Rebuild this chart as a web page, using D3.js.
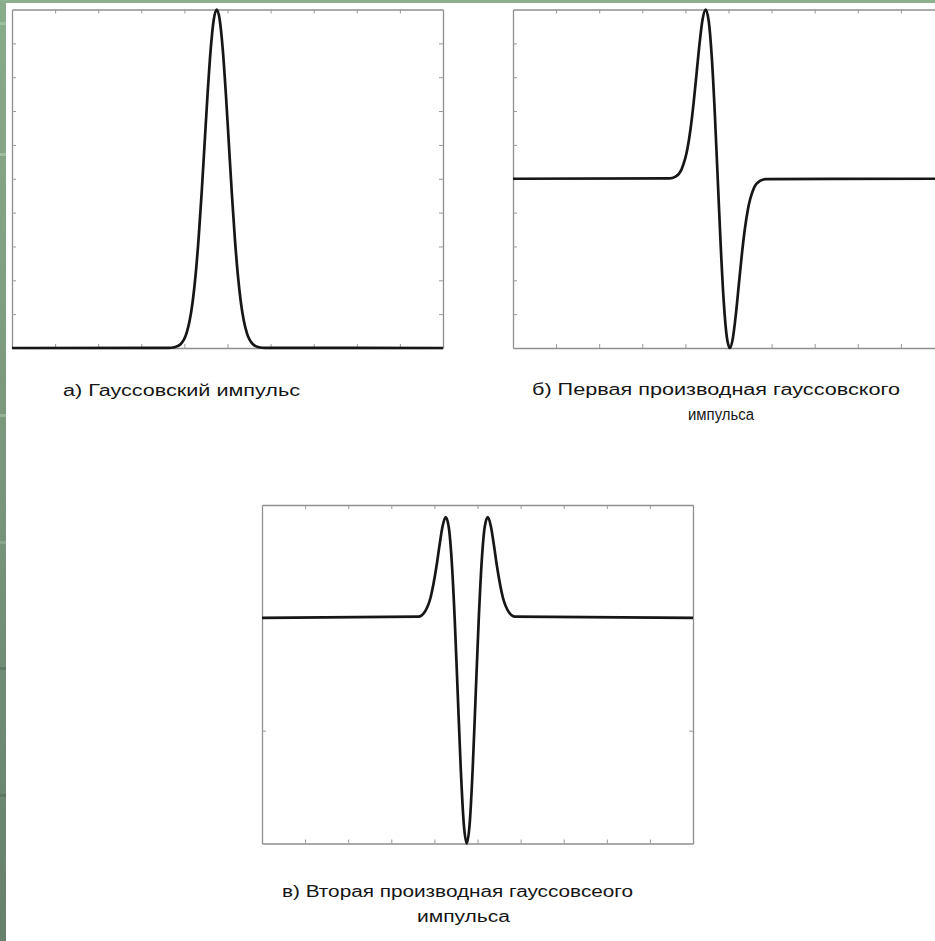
<!DOCTYPE html>
<html>
<head>
<meta charset="utf-8">
<script src="https://cdn.jsdelivr.net/npm/d3@7"></script>
<style>
  html, body { margin: 0; padding: 0; background: #fff; }
  svg { display: block; }
</style>
</head>
<body>
<svg id="chart" width="935" height="941"></svg>
<script>
// Sample times (shared by all three signals)
const t = [-5, -1.37, -1.23, -1.09, -0.95, -0.88, -0.81, -0.74, -0.67, -0.60, -0.53,
  -0.46, -0.39, -0.32, -0.25, -0.18, -0.11, -0.04, 0.03, 0.10, 0.17, 0.24, 0.31,
  0.38, 0.45, 0.59, 0.73, 0.87, 5];

// Gaussian pulse
const pulse = [0, 0.0003, 0.0022, 0.0111, 0.0439, 0.0796, 0.1353, 0.2163, 0.3247,
  0.4578, 0.6065, 0.7548, 0.8825, 0.9692, 1, 0.9692, 0.8825, 0.7548, 0.6065,
  0.4578, 0.3247, 0.2163, 0.1353, 0.0796, 0.0439, 0.0111, 0.0022, 0.0003, 0];

// First derivative (normalised to unit peak)
const firstDeriv = [0, 0.0022, 0.0125, 0.0549, 0.1810, 0.2953, 0.4463, 0.6241, 0.8030,
  0.9435, 1, 0.9334, 0.7275, 0.3995, 0, -0.3995, -0.7275, -0.9334, -1, -0.9435,
  -0.8030, -0.6241, -0.4463, -0.2953, -0.1810, -0.0549, -0.0125, -0.0022, 0];

// Second derivative (normalised to unit trough)
const secondDeriv = [0, 0.0050, 0.0246, 0.0889, 0.2305, 0.3233, 0.4060, 0.4461, 0.4059,
  0.2575, 0, -0.3302, -0.6619, -0.9086, -1, -0.9086, -0.6619, -0.3302, 0, 0.2575,
  0.4059, 0.4461, 0.4060, 0.3233, 0.2305, 0.0889, 0.0246, 0.0050, 0];

// Axis ticks
const xTicks = [-4, -3, -2, -1, 0, 1, 2, 3, 4];
const yTicksA = [0.1, 0.2, 0.3, 0.4, 0.5, 0.6, 0.7, 0.8, 0.9];
const yTicksB = [-0.8, -0.6, -0.4, -0.2, 0, 0.2, 0.4, 0.6, 0.8];
const yTicksC = [-0.5, 0];

// Captions
const captionA = ["а) Гауссовский импульс"];
const captionB = ["б) Первая производная гауссовского", "импульса"];
const captionC = ["в) Вторая производная гауссовсеого", "импульса"];

const svg = d3.select("#chart");

// Slide template decoration: green strip on the left and along the top
const defs = svg.append("defs");
const grad = defs.append("linearGradient").attr("id", "strip")
  .attr("x1", 0).attr("y1", 0).attr("x2", 0).attr("y2", 1);
grad.append("stop").attr("offset", "0%").attr("stop-color", "#8aac8a");
grad.append("stop").attr("offset", "50%").attr("stop-color", "#7a967c");
grad.append("stop").attr("offset", "100%").attr("stop-color", "#66806a");

svg.append("rect").attr("x", 0).attr("y", 0).attr("width", 935).attr("height", 941)
  .attr("fill", "#ffffff");
svg.append("rect").attr("x", 0).attr("y", 0).attr("width", 6).attr("height", 941)
  .attr("fill", "url(#strip)");
svg.append("rect").attr("x", 0).attr("y", 0).attr("width", 935).attr("height", 3)
  .attr("fill", "#8db08e");
const bands = [
  { y: 22, c: "#9dbf9d" }, { y: 153, c: "#9dbf9d" }, { y: 414, c: "#94b494" },
  { y: 541, c: "#8aa88c" }, { y: 667, c: "#5f7a64" }, { y: 794, c: "#5e765f" }
];
svg.selectAll("rect.band").data(bands).join("rect").attr("class", "band")
  .attr("x", 0).attr("y", d => d.y).attr("width", 6).attr("height", 3)
  .attr("fill", d => d.c);

const panels = [
  { left: 12, top: 9.5, yDomain: [0, 1], values: pulse, yTicks: yTicksA,
    caption: captionA, capX: [63], capY: 396, capW: [237] },
  { left: 513, top: 9.5, yDomain: [-1, 1], values: firstDeriv, yTicks: yTicksB,
    caption: captionB, capX: [532, 688], capY: 395, capW: [368, 66] },
  { left: 262, top: 505, yDomain: [-1, 0.5], values: secondDeriv, yTicks: yTicksC,
    caption: captionC, capX: [282, 417], capY: 897, capW: [351, 93] }
];
const W = 431, H = 338.5;

panels.forEach(p => {
  const x = d3.scaleLinear().domain([-5, 5]).range([p.left, p.left + W]);
  const y = d3.scaleLinear().domain(p.yDomain).range([p.top + H, p.top]);
  const g = svg.append("g");

  const styleAxis = sel => {
    sel.selectAll("path.domain").attr("stroke", "#8f8f8f").attr("stroke-width", 1.3);
    sel.selectAll(".tick line").attr("stroke", "#999").attr("stroke-width", 1);
    sel.selectAll(".tick text").remove();
  };

  g.append("g").attr("transform", `translate(0,${p.top + H})`)
    .call(d3.axisBottom(x).tickValues(xTicks).tickSizeInner(-4).tickSizeOuter(0).tickFormat(""))
    .call(styleAxis);
  g.append("g").attr("transform", `translate(0,${p.top})`)
    .call(d3.axisTop(x).tickValues(xTicks).tickSizeInner(-4).tickSizeOuter(0).tickFormat(""))
    .call(styleAxis);
  g.append("g").attr("transform", `translate(${p.left},0)`)
    .call(d3.axisLeft(y).tickValues(p.yTicks).tickSizeInner(-4).tickSizeOuter(0).tickFormat(""))
    .call(styleAxis);
  g.append("g").attr("transform", `translate(${p.left + W},0)`)
    .call(d3.axisRight(y).tickValues(p.yTicks).tickSizeInner(-4).tickSizeOuter(0).tickFormat(""))
    .call(styleAxis);

  const pts = t.map((tv, i) => [tv, p.values[i]]);
  g.append("path").datum(pts)
    .attr("fill", "none").attr("stroke", "#161616").attr("stroke-width", 2.7)
    .attr("stroke-linejoin", "round")
    .attr("d", d3.line().x(d => x(d[0])).y(d => y(d[1])).curve(d3.curveMonotoneX));

  // Caption lines
  p.caption.forEach((txt, i) => {
    g.append("text")
      .attr("x", p.capX[i])
      .attr("y", p.capY + i * 25)
      .attr("font-family", "'Liberation Sans', Arial, sans-serif")
      .attr("font-size", 16)
      .attr("fill", "#151515")
      .attr("textLength", p.capW[i])
      .attr("lengthAdjust", "spacingAndGlyphs")
      .text(txt);
  });
});
</script>
</body>
</html>
